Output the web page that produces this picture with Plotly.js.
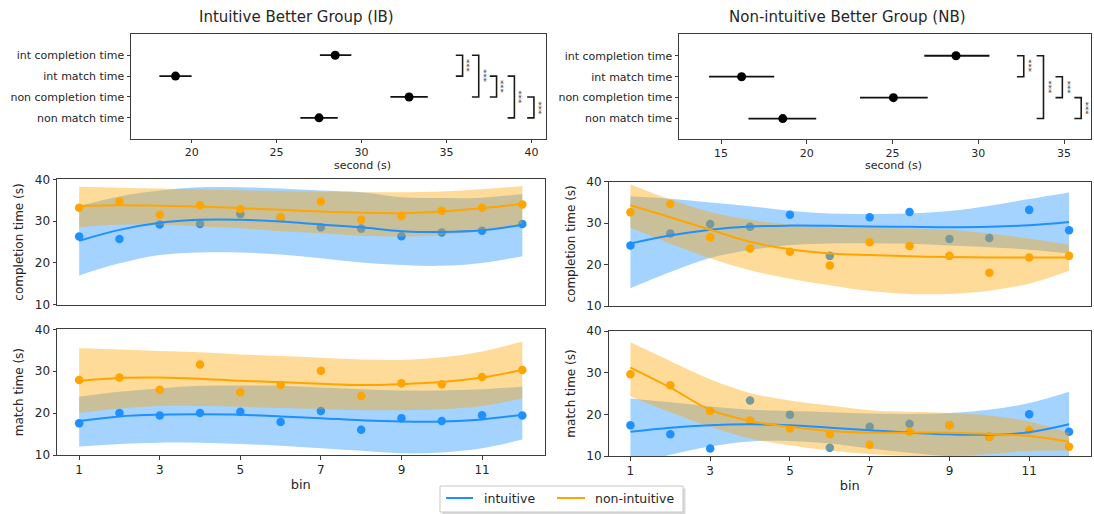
<!DOCTYPE html>
<html>
<head>
<meta charset="utf-8">
<script src="https://cdn.plot.ly/plotly-3.0.1.min.js"></script>
<style>html,body{margin:0;padding:0;background:#fff}</style>
</head>
<body>
<div id="chart" style="width:1094px;height:514px"></div>
<script>
// ---- summary panels: mean and confidence interval per measure (seconds) ----
const measures = ['int completion time', 'int match time', 'non completion time', 'non match time'];

const ibMean = [28.45, 19.05, 32.8, 27.5];
const ibLow  = [27.55, 18.1, 31.7, 26.4];
const ibHigh = [29.4, 20.0, 33.9, 28.6];

const nbMean = [28.7, 16.2, 25.05, 18.6];
const nbLow  = [26.85, 14.3, 23.1, 16.6];
const nbHigh = [30.65, 18.1, 27.05, 20.55];

// significant pairwise differences (indices into measures)
const ibPairs = [[0, 1], [0, 2], [1, 2], [1, 3], [2, 3]];
const nbPairs = [[0, 1], [0, 3], [1, 2], [2, 3]];
const sigLabel = '***';

// ---- per-bin trends ----
const bins = [1, 2, 3, 4, 5, 6, 7, 8, 9, 10, 11, 12];
const groupNames = ['intuitive', 'non-intuitive'];

// IB completion time
const ibCompInt    = [26.3, 25.7, 29.2, 29.3, 31.7, 30.8, 28.5, 28.2, 26.4, 27.3, 27.7, 29.3];
const ibCompIntFit = [25.3, 27.9, 29.6, 30.3, 30.3, 29.9, 29.2, 28.5, 27.6, 27.4, 27.8, 29.1];
const ibCompIntLo  = [17.0, 19.9, 21.9, 22.5, 22.5, 22.0, 21.1, 20.1, 19.5, 19.3, 20.0, 21.6];
const ibCompIntHi  = [33.6, 35.9, 37.3, 38.1, 38.1, 37.8, 37.3, 36.9, 35.7, 35.5, 35.6, 36.5];
const ibCompNon    = [33.2, 34.7, 31.5, 33.8, 32.9, 31.0, 34.7, 30.3, 31.2, 32.5, 33.2, 34.0];
const ibCompNonFit = [33.6, 33.8, 33.7, 33.5, 33.1, 32.7, 32.3, 32.0, 31.9, 32.3, 33.1, 34.1];
const ibCompNonLo  = [28.5, 29.1, 29.1, 28.7, 28.3, 27.6, 27.1, 26.5, 26.3, 26.7, 27.6, 28.9];
const ibCompNonHi  = [38.2, 38.0, 37.8, 37.6, 37.4, 37.2, 37.0, 36.9, 36.9, 37.1, 37.6, 38.4];

// NB completion time
const nbCompInt    = [24.6, 27.5, 29.8, 29.1, 32.0, 22.1, 31.4, 32.7, 26.2, 26.4, 33.2, 28.3];
const nbCompIntFit = [25.1, 27.0, 28.4, 29.2, 29.4, 29.35, 29.2, 29.1, 29.0, 29.1, 29.5, 30.3];
const nbCompIntLo  = [14.3, 18.2, 21.6, 23.5, 24.7, 25.1, 25.1, 25.0, 24.6, 24.2, 23.6, 22.7];
const nbCompIntHi  = [36.5, 35.9, 35.0, 34.1, 33.0, 32.3, 32.2, 32.3, 32.9, 34.2, 35.8, 37.4];
const nbCompNon    = [32.6, 34.6, 26.6, 23.9, 23.1, 19.8, 25.4, 24.5, 22.1, 18.0, 21.7, 22.1];
const nbCompNonFit = [34.3, 31.4, 28.4, 25.5, 23.7, 22.7, 22.3, 22.0, 21.8, 21.7, 21.7, 21.7];
const nbCompNonLo  = [28.9, 25.1, 21.5, 18.6, 16.6, 15.0, 13.6, 12.9, 12.9, 13.7, 15.4, 18.5];
const nbCompNonHi  = [39.3, 35.7, 32.7, 30.8, 29.6, 28.9, 28.8, 28.7, 28.4, 27.5, 26.3, 24.8];

// IB match time
const ibMatchInt    = [17.6, 20.0, 19.4, 20.0, 20.3, 17.9, 20.5, 16.0, 18.8, 18.1, 19.5, 19.4];
const ibMatchIntFit = [18.1, 19.2, 19.6, 19.7, 19.6, 19.2, 18.8, 18.3, 18.0, 18.0, 18.5, 19.6];
const ibMatchIntLo  = [12.0, 12.6, 12.95, 12.9, 12.6, 12.2, 11.6, 11.0, 10.4, 10.6, 11.6, 13.7];
const ibMatchIntHi  = [23.9, 25.1, 25.9, 26.5, 26.6, 26.5, 26.1, 25.7, 25.4, 25.4, 25.7, 26.3];
const ibMatchNon    = [27.9, 28.5, 25.6, 31.6, 25.0, 26.7, 30.1, 24.1, 27.1, 26.9, 28.6, 30.3];
const ibMatchNonFit = [27.7, 28.4, 28.5, 28.2, 27.7, 27.4, 27.0, 26.7, 26.9, 27.4, 28.5, 30.3];
const ibMatchNonLo  = [20.0, 21.1, 21.7, 21.7, 21.5, 21.2, 21.0, 20.7, 20.7, 20.9, 21.7, 23.5];
const ibMatchNonHi  = [35.5, 35.2, 34.8, 34.5, 34.0, 33.6, 33.2, 32.8, 32.7, 33.3, 34.7, 37.1];

// NB match time
const nbMatchInt    = [17.4, 15.2, 11.8, 23.3, 19.9, 12.0, 17.0, 17.75, 17.4, 14.6, 20.0, 15.8];
const nbMatchIntFit = [15.8, 16.8, 17.4, 17.6, 17.4, 16.8, 16.2, 15.6, 15.2, 15.1, 15.7, 17.6];
const nbMatchIntLo  = [7.5, 10.3, 12.3, 13.5, 13.6, 13.0, 11.8, 10.8, 9.9, 9.3, 9.2, 9.6];
const nbMatchIntHi  = [23.8, 22.9, 21.9, 21.1, 20.8, 20.5, 20.2, 20.1, 20.3, 21.1, 22.7, 25.4];
const nbMatchNon    = [29.6, 27.0, 20.8, 18.5, 16.6, 15.2, 12.7, 15.8, 17.4, 14.6, 16.2, 12.2];
const nbMatchNonFit = [31.2, 26.4, 21.1, 18.4, 17.0, 16.0, 15.6, 15.6, 15.6, 15.3, 14.8, 13.4];
const nbMatchNonLo  = [24.3, 20.5, 17.0, 14.2, 12.6, 11.3, 10.5, 10.0, 10.0, 10.5, 11.2, 11.3];
const nbMatchNonHi  = [37.3, 32.8, 28.4, 25.1, 23.3, 22.1, 21.0, 20.6, 20.3, 19.7, 18.3, 15.6];

// ---- styling ----
const FONT = 'DejaVu Sans, Liberation Sans, sans-serif';
const INK = '#262626';
const FRAME = '#3c3c3c';
const BLUE = '#1E90FF', ORANGE = '#FFA500';
const BLUE_FILL = 'rgba(30,144,255,0.4)', ORANGE_FILL = 'rgba(255,165,0,0.4)';

const W = 1094, H = 514;
const px = v => v / W;          // horizontal pixel -> paper fraction
const py = v => 1 - v / H;      // vertical pixel -> paper fraction

const traces = [];
const annotations = [];

// bracket placement along the seconds axis for each group
const ibBracketX = [35.95, 36.9, 37.95, 39.0, 40.15];
const nbBracketX = [32.65, 33.8, 34.9, 36.0];
const BRACKET_ARM = 0.4;

function summaryPanel(xa, ya, mean, lo, hi, pairs, bracketX) {
  traces.push({
    type: 'scatter', mode: 'markers', xaxis: xa, yaxis: ya,
    x: mean, y: measures.map((_, i) => i),
    marker: { color: '#000', size: 9 },
    error_x: {
      type: 'data', symmetric: false,
      array: hi.map((h, i) => h - mean[i]),
      arrayminus: lo.map((l, i) => mean[i] - l),
      color: '#111', thickness: 1.8, width: 0
    },
    showlegend: false, hoverinfo: 'skip'
  });
  pairs.forEach((p, i) => {
    const bx = bracketX[i];
    traces.push({
      type: 'scatter', mode: 'lines', xaxis: xa, yaxis: ya,
      x: [bx - BRACKET_ARM, bx, bx, bx - BRACKET_ARM],
      y: [p[0], p[0], p[1], p[1]],
      line: { color: '#1a1a1a', width: 1.6 },
      showlegend: false, hoverinfo: 'skip'
    });
    annotations.push({
      xref: xa, yref: ya, x: bx + 0.24, y: (p[0] + p[1]) / 2,
      xanchor: 'center', yanchor: 'middle',
      text: sigLabel, textangle: 90, showarrow: false,
      font: { family: FONT, size: 8.5, color: '#3a3a3a' }
    });
  });
}

// scatter of the bin values plus the confidence band around the fitted curve
function pointsAndBand(xa, ya, pts, lo, hi, color, fill) {
  traces.push({
    type: 'scatter', mode: 'markers', xaxis: xa, yaxis: ya, x: bins, y: pts,
    marker: { color: color, size: 8.5 }, showlegend: false, hoverinfo: 'skip'
  });
  traces.push({
    type: 'scatter', mode: 'lines', xaxis: xa, yaxis: ya, x: bins, y: hi,
    line: { width: 0, shape: 'spline', smoothing: 1, color: color },
    showlegend: false, hoverinfo: 'skip'
  });
  traces.push({
    type: 'scatter', mode: 'lines', xaxis: xa, yaxis: ya, x: bins, y: lo,
    line: { width: 0, shape: 'spline', smoothing: 1, color: color },
    fill: 'tonexty', fillcolor: fill, showlegend: false, hoverinfo: 'skip'
  });
}
// fitted curve, drawn above both bands
function fitLine(xa, ya, fit, color, name) {
  traces.push({
    type: 'scatter', mode: 'lines', xaxis: xa, yaxis: ya, x: bins, y: fit,
    line: { color: color, width: 2, shape: 'spline', smoothing: 1 },
    name: name, showlegend: false, hoverinfo: 'skip'
  });
}

function trendPanel(xa, ya, intr, non) {
  pointsAndBand(xa, ya, intr.pts, intr.lo, intr.hi, BLUE, BLUE_FILL);
  pointsAndBand(xa, ya, non.pts, non.lo, non.hi, ORANGE, ORANGE_FILL);
  fitLine(xa, ya, intr.fit, BLUE, groupNames[0]);
  fitLine(xa, ya, non.fit, ORANGE, groupNames[1]);
}

summaryPanel('x', 'y', ibMean, ibLow, ibHigh, ibPairs, ibBracketX);
summaryPanel('x2', 'y2', nbMean, nbLow, nbHigh, nbPairs, nbBracketX);

trendPanel('x3', 'y3',
  { pts: ibCompInt, fit: ibCompIntFit, lo: ibCompIntLo, hi: ibCompIntHi },
  { pts: ibCompNon, fit: ibCompNonFit, lo: ibCompNonLo, hi: ibCompNonHi });
trendPanel('x4', 'y4',
  { pts: nbCompInt, fit: nbCompIntFit, lo: nbCompIntLo, hi: nbCompIntHi },
  { pts: nbCompNon, fit: nbCompNonFit, lo: nbCompNonLo, hi: nbCompNonHi });
trendPanel('x5', 'y5',
  { pts: ibMatchInt, fit: ibMatchIntFit, lo: ibMatchIntLo, hi: ibMatchIntHi },
  { pts: ibMatchNon, fit: ibMatchNonFit, lo: ibMatchNonLo, hi: ibMatchNonHi });
trendPanel('x6', 'y6',
  { pts: nbMatchInt, fit: nbMatchIntFit, lo: nbMatchIntLo, hi: nbMatchIntHi },
  { pts: nbMatchNon, fit: nbMatchNonFit, lo: nbMatchNonLo, hi: nbMatchNonHi });

// ---- axes ----
const boxed = {
  showline: true, mirror: true, linecolor: FRAME, linewidth: 1,
  showgrid: false, zeroline: false, ticks: 'outside', ticklen: 3.5,
  tickcolor: FRAME, tickwidth: 1, tickfont: { family: FONT, size: 12, color: INK }
};

function summaryY(domain, anchor) {
  return Object.assign({}, boxed, {
    domain: domain, anchor: anchor, range: [3.99, -1.04],
    tickvals: [0, 1, 2, 3], ticktext: measures,
    tickfont: { family: FONT, size: 11, color: INK }
  });
}
function summaryX(domain, anchor, range, ticks) {
  return Object.assign({}, boxed, {
    domain: domain, anchor: anchor, range: range, tickvals: ticks,
    tickfont: { family: FONT, size: 11, color: INK }
  });
}
function binX(domain, anchor, labelled) {
  const ax = Object.assign({}, boxed, {
    domain: domain, anchor: anchor, range: [0.45, 12.55],
    tickvals: [1, 3, 5, 7, 9, 11]
  });
  if (!labelled) { ax.ticks = ''; ax.showticklabels = false; }
  else ax.title = { text: 'bin', font: { family: FONT, size: 13, color: INK }, standoff: 3 };
  return ax;
}
function timeY(domain, anchor, label) {
  return Object.assign({}, boxed, {
    domain: domain, anchor: anchor, range: [10, 40], tickvals: [10, 20, 30, 40],
    title: { text: label, font: { family: FONT, size: 12, color: INK }, standoff: 8 }
  });
}

const leftCol = [px(57), px(544.5)];
const rightCol = [px(608.5), px(1091)];

function label(x, y, text, size, anchor) {
  return { xref: 'paper', yref: 'paper', x: px(x), y: py(y), xanchor: anchor || 'center', yanchor: 'middle',
           text: text, showarrow: false, font: { family: FONT, size: size, color: INK } };
}

// shared legend below the panels: frame, shadow, line keys and names
const legendShapes = [
  { type: 'rect', xref: 'paper', yref: 'paper', layer: 'below',
    x0: px(442.5), x1: px(685.5), y0: py(514.5), y1: py(488.5),
    fillcolor: '#dadada', line: { width: 0 } },
  { type: 'rect', xref: 'paper', yref: 'paper', layer: 'below',
    x0: px(440), x1: px(683), y0: py(512), y1: py(486),
    fillcolor: '#ffffff', line: { color: '#c8c8c8', width: 1 } },
  { type: 'line', xref: 'paper', yref: 'paper', x0: px(446), x1: px(473), y0: py(498), y1: py(498),
    line: { color: BLUE, width: 2 } },
  { type: 'line', xref: 'paper', yref: 'paper', x0: px(557), x1: px(585), y0: py(498), y1: py(498),
    line: { color: ORANGE, width: 2 } }
];
const legendLabels = [
  label(482, 498, groupNames[0], 12.5, 'left'),
  label(593, 498, groupNames[1], 12.5, 'left')
];

const layout = {
  width: W, height: H,
  margin: { l: 0, r: 0, t: 0, b: 0 },
  paper_bgcolor: '#fff', plot_bgcolor: '#fff',
  font: { family: FONT, color: INK },
  showlegend: false,
  xaxis: summaryX([px(131), px(546)], 'y', [16.43, 40.86], [20, 25, 30, 35, 40]),
  yaxis: summaryY([py(138.5), py(33.5)], 'x'),
  xaxis2: summaryX([px(679), px(1091)], 'y2', [12.55, 36.57], [15, 20, 25, 30, 35]),
  yaxis2: summaryY([py(139.3), py(34)], 'x2'),
  xaxis3: binX(leftCol, 'y3', false),
  yaxis3: timeY([py(304.7), py(179.3)], 'x3', 'completion time (s)'),
  xaxis4: binX(rightCol, 'y4', false),
  yaxis4: timeY([py(306), py(181.7)], 'x4', 'completion time (s)'),
  xaxis5: binX(leftCol, 'y5', true),
  yaxis5: timeY([py(455), py(329.3)], 'x5', 'match time (s)'),
  xaxis6: binX(rightCol, 'y6', true),
  yaxis6: timeY([py(456), py(331)], 'x6', 'match time (s)'),
  shapes: legendShapes,
  annotations: annotations.concat(legendLabels, [
    label(296, 17, 'Intuitive Better Group (IB)', 15),
    label(847, 17, 'Non-intuitive Better Group (NB)', 15),
    label(362, 166, 'second (s)', 11),
    label(893, 166, 'second (s)', 11)
  ])
};

Plotly.newPlot('chart', traces, layout, { staticPlot: true, displayModeBar: false });
</script>
</body>
</html>
